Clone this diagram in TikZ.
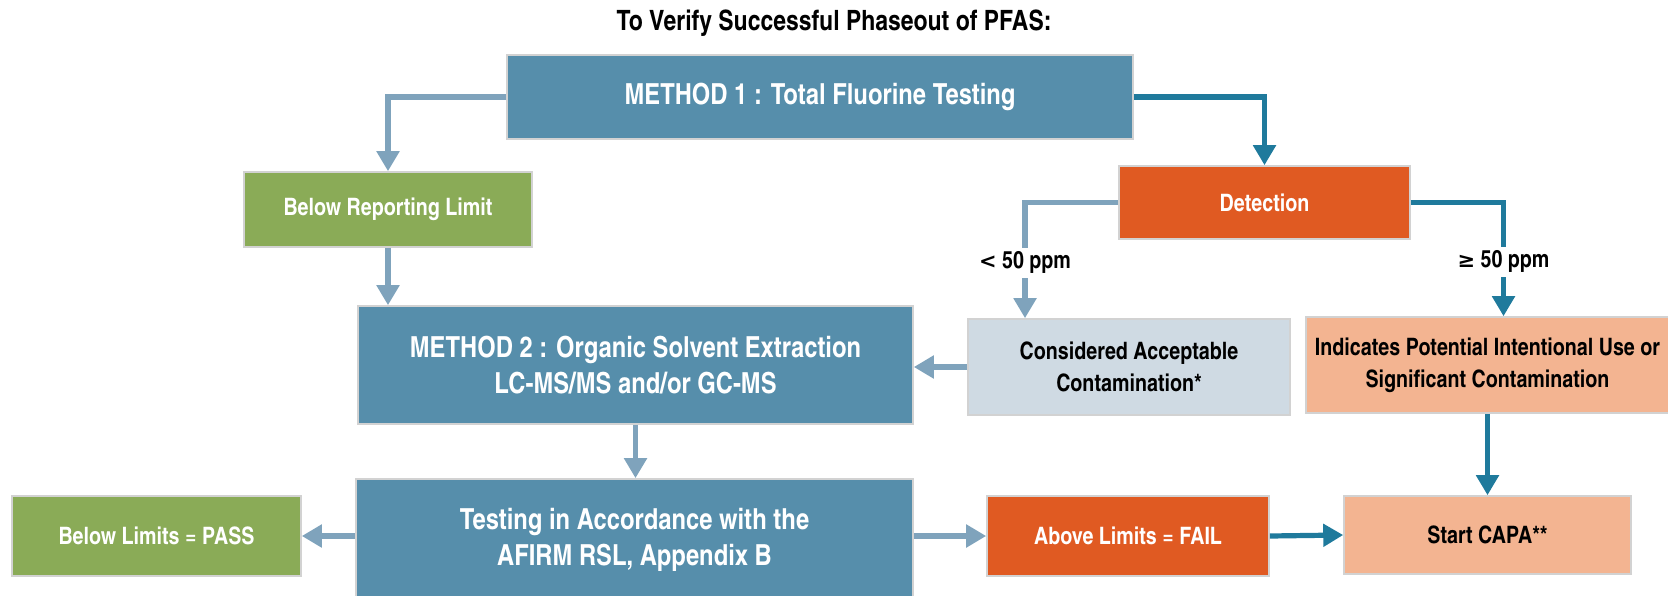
\documentclass[tikz,border=0pt]{standalone}
\usepackage{fontspec}
\setmainfont{texgyreheroscn}[Extension=.otf, UprightFont=*-bold, BoldFont=*-bold]
\newfontfamily\symfont{DejaVu Sans}
\usepackage{xcolor}
\usepackage{tikz}
\usetikzlibrary{arrows.meta,calc,positioning}

\definecolor{methblue}{HTML}{568EAB}
\definecolor{passgreen}{HTML}{8AAB57}
\definecolor{failorange}{HTML}{E05A22}
\definecolor{accgray}{HTML}{CFDAE3}
\definecolor{capasalmon}{HTML}{F3B491}
\definecolor{litearrow}{HTML}{7FA3BC}
\definecolor{darkarrow}{HTML}{1F7A9C}
\definecolor{edgegray}{HTML}{D2D2D2}

\tikzset{
  box/.style={draw=edgegray, line width=0.8pt, align=center, inner sep=2pt},
  methbox/.style={box, fill=methblue, text=white, font=\fontsize{14.5}{18}\selectfont},
  smallbox/.style={box, font=\fontsize{12}{16}\selectfont},
  lite/.style={draw=litearrow, line width=2.6pt},
  dark/.style={draw=darkarrow, line width=2.6pt},
  tip/.style={-{Triangle[width=11pt,length=10pt]}},
  ppm/.style={fill=white, text=black, inner sep=2pt, font=\fontsize{12}{14}\selectfont}
}

\begin{document}
\begin{tikzpicture}[x=0.5pt,y=-0.5pt]
  \useasboundingbox (0,0) rectangle (1668,595);

  \node[font=\fontsize{14}{16}\selectfont] (title) at (834,23) {To Verify Successful Phaseout of PFAS:};

  \node[methbox, minimum width=313pt, minimum height=42pt] (m1) at (820,97) {METHOD 1 : Total Fluorine Testing};
  \node[smallbox, fill=passgreen, text=white, minimum width=144pt, minimum height=37.5pt] (brl) at (388,209.5) {Below Reporting Limit};
  \node[smallbox, fill=failorange, text=white, minimum width=145.5pt, minimum height=36.5pt] (det) at (1264.5,202.5) {Detection};
  \node[methbox, minimum width=277.5pt, minimum height=59pt] (m2) at (635.5,365) {METHOD 2 : Organic Solvent Extraction\\LC-MS/MS and/or GC-MS};
  \node[smallbox, fill=accgray, minimum width=161pt, minimum height=48pt] (acc) at (1129,367) {Considered Acceptable\\Contamination*};
  \node[smallbox, fill=capasalmon, minimum width=181.5pt, minimum height=48pt] (ind) at (1487.5,365) {Indicates Potential Intentional Use or\\Significant Contamination};
  \node[methbox, minimum width=278.5pt, minimum height=61pt] (tst) at (634.5,540) {Testing in Accordance with the\\AFIRM RSL, Appendix B};
  \node[smallbox, fill=passgreen, text=white, minimum width=144.5pt, minimum height=40pt] (pass) at (156.5,536) {Below Limits = PASS};
  \node[smallbox, fill=failorange, text=white, minimum width=141pt, minimum height=40pt] (fail) at (1128,536) {Above Limits = FAIL};
  \node[smallbox, fill=capasalmon, minimum width=143.5pt, minimum height=39pt] (capa) at (1487.5,535) {Start CAPA**};

  \draw[lite,tip] (m1.west) -| (brl.north);
  \draw[dark,tip] (m1.east) -| (det.north);
  \draw[lite,tip] (det.west) -| ([xshift=-52pt]acc.north) node[ppm, pos=0.76] {{\symfont\bfseries\fontsize{10.5}{12}\selectfont <} 50 ppm};
  \draw[dark,tip] (det.east) -| ([xshift=8pt]ind.north) node[ppm, pos=0.76] {{\symfont\bfseries\fontsize{10.5}{12}\selectfont ≥} 50 ppm};
  \draw[lite,tip] (brl.south) -- (brl.south |- m2.north);
  \draw[lite,tip] (acc.west) -- (acc.west -| m2.east);
  \draw[lite,tip] (m2.south) -- (m2.south |- tst.north);
  \draw[lite,tip] (pass.east -| tst.west) -- (pass.east);
  \draw[lite,tip] (fail.west -| tst.east) -- (fail.west);
  \draw[dark,tip] (fail.east) -- (capa.west);
  \draw[dark,tip] (ind.south) -- (ind.south |- capa.north);

\end{tikzpicture}
\end{document}
